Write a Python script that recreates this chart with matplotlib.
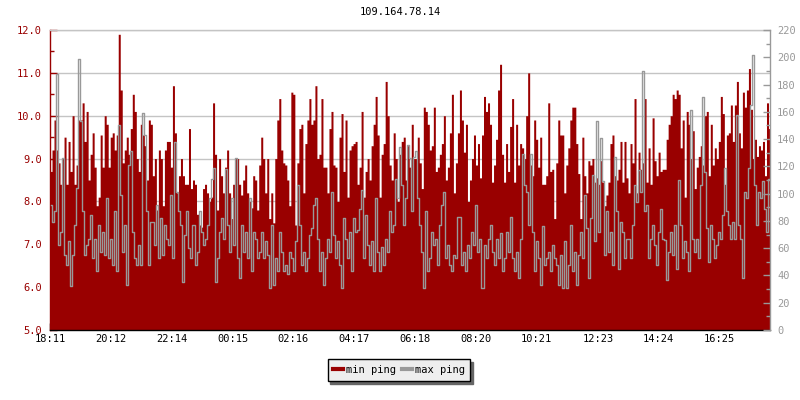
import matplotlib
matplotlib.use("Agg")
import matplotlib.pyplot as plt
import numpy as np
from matplotlib.lines import Line2D
from matplotlib.ticker import MultipleLocator, FormatStrFormatter, FixedLocator

plt.rcParams['font.family'] = ['DejaVu Sans Mono', 'DejaVu Sans']

title = "109.164.78.14"
tick_labels = ["18:11", "20:12", "22:14", "00:15", "02:16", "04:17",
               "06:18", "08:20", "10:21", "12:23", "14:24", "16:25"]
sample_minutes = 4
span_minutes = 1435
series_names = ["min ping", "max ping"]

# left axis (ms) – min ping
min_ping = [
    8.7, 9.2, 9.9, 9.2, 8.9, 8.4, 9.0, 9.5, 8.4, 9.4, 8.7, 10.0, 8.4, 8.85, 9.9, 9.9, 10.3,
    9.4, 10.1, 8.5, 9.1, 9.6, 8.8, 7.9, 8.1, 9.55, 8.8, 10.0, 9.8, 8.8, 9.5, 9.6, 9.2, 9.55,
    11.9, 10.6, 8.9, 9.2, 9.5, 9.1, 9.7, 10.5, 10.1, 9.0, 8.7, 9.8, 9.55, 9.3, 8.5, 9.9, 9.8,
    8.6, 9.0, 7.8, 9.2, 9.0, 7.9, 9.2, 9.4, 9.4, 8.8, 10.7, 9.6, 8.2, 8.6, 9.0, 8.6, 8.4,
    8.4, 9.7, 8.3, 8.5, 8.4, 7.7, 7.45, 7.4, 8.3, 8.4, 8.2, 8.0, 8.1, 10.3, 9.1, 7.8, 9.0,
    8.6, 8.2, 8.8, 9.2, 8.2, 7.6, 8.4, 9.0, 9.0, 8.4, 8.15, 8.5, 8.85, 8.2, 8.0, 7.85, 8.6,
    8.5, 7.8, 8.85, 9.5, 9.0, 8.2, 9.0, 7.6, 8.2, 7.5, 9.0, 9.9, 10.4, 9.2, 8.9, 8.85, 8.5,
    7.9, 10.55, 10.5, 7.45, 8.9, 9.7, 9.8, 8.2, 9.35, 9.9, 10.4, 9.8, 9.9, 10.7, 9.0, 9.1,
    10.4, 8.8, 8.8, 8.2, 9.7, 10.1, 8.85, 8.8, 8.0, 9.5, 10.05, 8.7, 9.9, 8.1, 9.2, 9.3, 9.35, 9.4,
    8.4, 8.8, 10.1, 8.1, 8.7, 9.0, 8.5, 9.3, 9.8, 10.45, 9.55, 8.1, 9.1, 9.35, 10.8, 10.0, 8.85,
    8.5, 9.6, 9.0, 8.0, 9.1, 9.4, 9.5, 8.5, 9.3, 8.8, 9.8, 9.0, 9.0, 9.5, 8.9, 8.3, 10.2,
    10.1, 9.8, 9.2, 9.3, 10.2, 8.7, 8.8, 9.1, 9.35, 10.0, 8.5, 8.8, 9.6, 10.5, 8.2, 8.9, 9.6,
    10.6, 9.9, 9.15, 9.8, 8.0, 8.5, 9.0, 9.55, 8.85, 9.35, 8.55, 9.55, 10.45, 10.1, 10.3, 9.8,
    8.45, 8.85, 9.45, 10.6, 11.2, 9.1, 8.45, 9.35, 8.7, 9.75, 10.4, 8.45, 9.8, 8.85, 9.35,
    9.25, 9.0, 10.0, 11.0, 8.85, 8.6, 9.9, 9.45, 8.8, 9.5, 8.4, 8.4, 8.6, 10.3, 8.7, 8.75,
    7.6, 8.9, 9.9, 9.55,
    9.55, 8.2, 8.85, 9.25, 9.9, 10.2, 10.2, 9.35, 8.65, 7.6, 9.5, 8.6, 8.2, 8.95, 8.85, 9.0,
    8.45, 8.55, 8.4, 8.95, 8.45, 7.9, 8.15, 8.45, 9.35, 9.55, 8.6, 8.5, 8.75, 9.4, 8.45, 9.4,
    8.55, 8.2, 9.35, 8.9, 10.4, 8.2, 9.15, 8.75, 8.9, 10.4, 8.45, 9.25, 8.4, 9.95, 8.95, 8.6,
    9.15, 8.7, 8.75,
    8.75, 9.45, 9.8, 10.0, 10.5, 10.4, 10.6, 10.5, 9.25, 9.9, 8.1, 10.1, 9.8, 9.0, 9.65, 8.3,
    8.8, 9.05, 9.3, 8.85, 10.0, 10.1, 8.6, 9.8, 8.85, 9.25, 9.0, 9.4, 10.45, 10.05, 8.4, 9.55,
    9.6, 10.25, 9.4, 10.25, 10.8, 9.6, 9.25, 10.55, 10.2, 10.6, 11.1, 10.15, 9.0, 9.45, 9.05,
    9.3, 9.2, 9.4, 8.6, 10.3, 9.7, 9.0,
]

# right axis (ms) – max ping
max_ping = [
    92, 79, 87, 188, 62, 72, 126, 55, 48, 65, 32, 55, 77, 104, 199, 153, 87, 55, 62, 67,
    84, 53, 67, 43, 77, 57, 72, 55, 97, 53, 67, 48, 87, 43, 150, 99, 57, 77, 33, 121,
    131, 72, 53, 48, 62, 48, 159, 143, 87, 48, 79,
    79, 62, 92, 53, 82, 55, 77, 67, 62, 99, 53, 138, 101, 87, 77, 35, 70, 87, 60, 53,
    77, 48, 57, 87, 72, 62, 67, 77, 97, 111, 119, 35, 53, 72, 82, 67, 118, 77, 57, 97,
    62, 126, 53, 38, 77, 57, 72, 53, 97, 43, 72,
    67, 53, 57, 72, 53, 65, 55, 31, 77, 33, 53, 43, 72, 57, 43, 48, 41, 57, 53, 43,
    65, 106, 77, 48, 57, 43, 53, 70, 75, 92, 97, 67, 43, 57, 33, 53, 67, 57, 101, 70,
    53, 65, 48, 31, 82, 67, 53, 72, 43, 82, 72,
    73, 89, 103, 53, 84, 62, 48, 65, 43, 97, 57, 43, 61, 48, 67, 57, 87, 72, 77, 111,
    97, 134, 106, 77, 97, 136, 126, 87, 127, 131, 97, 77, 57, 31, 87, 43, 53, 72, 62, 67,
    48, 77, 92, 101, 53, 62, 48, 43, 55, 53, 83,
    83, 48, 57, 43, 62, 53, 72, 62, 92, 57, 67, 31, 62, 53, 67, 77, 57, 48, 67, 53,
    71, 43, 53, 72, 57, 83, 53, 43, 57, 38, 67, 129, 106, 101, 77, 129, 72, 43, 65, 53,
    33, 76, 48, 53, 57, 43, 62, 53, 48, 33, 55,
    31, 65, 31, 48, 77, 43, 57, 33, 55, 72, 53, 99, 75, 38, 82, 114, 65, 153, 72, 141,
    109, 55, 87, 57, 72, 48, 127, 87, 45, 79, 72, 53, 67, 67, 53, 77, 106, 94, 117, 101,
    190, 87, 92, 53, 67, 77, 62, 48, 72, 89, 67,
    66, 37, 57, 72, 55, 77, 45, 110, 77, 53, 65, 57, 43, 161, 67, 57, 67, 53, 106, 171,
    116, 75, 50, 77, 67, 53, 62, 72, 67, 84, 119, 87, 77, 67, 79, 67, 158, 77, 67, 38,
    101, 97, 119, 165, 202, 106, 77, 101, 97, 109, 89, 72, 111, 67,
]

RED = '#990000'
GREY = '#999999'
GRID = '#c4c4c4'
FS = 7.5


def to_minutes(lbl, start):
    h, m = map(int, lbl.split(':'))
    sh, sm = map(int, start.split(':'))
    return ((h * 60 + m) - (sh * 60 + sm)) % 1440


fig = plt.figure(figsize=(8, 4), dpi=100)
ax = fig.add_axes([50 / 800, 70 / 400, 720 / 800, 300 / 400])
ax2 = ax.twinx()

n = min(len(min_ping), len(max_ping))
t = np.arange(n) * sample_minutes
edges = np.append(t, t[-1] + sample_minutes)
vals = np.append(np.array(min_ping[:n]), min_ping[n - 1])
ax.fill_between(edges, 5.0, vals, step='post', color=RED, lw=0, zorder=2)
ax2.plot(t + sample_minutes / 2, max_ping[:n], drawstyle='steps-mid',
         color=GREY, lw=1.0, zorder=3)

ax.set_xlim(0, span_minutes)
ax.set_ylim(5.0, 12.0)
ax2.set_ylim(0, 220)

ax.xaxis.set_major_locator(FixedLocator([to_minutes(l, tick_labels[0]) for l in tick_labels]))
ax.set_xticklabels(tick_labels)
ax.tick_params(axis='x', which='major', direction='in', length=5, width=1,
               color='black', labelcolor='black', labelsize=FS, pad=3)

ax.yaxis.set_major_locator(MultipleLocator(1.0))
ax.yaxis.set_minor_locator(MultipleLocator(0.5))
ax.yaxis.set_major_formatter(FormatStrFormatter('%.1f'))
ax.tick_params(axis='y', which='major', direction='in', length=5, width=1,
               color=RED, labelcolor=RED, labelsize=FS, pad=6)
ax.tick_params(axis='y', which='minor', direction='in', length=3, width=1, color=RED)

ax2.yaxis.set_major_locator(MultipleLocator(20))
ax2.yaxis.set_minor_locator(MultipleLocator(10))
ax2.tick_params(axis='y', which='major', direction='in', length=5, width=1,
                color=GREY, labelcolor=GREY, labelsize=FS, pad=5)
ax2.tick_params(axis='y', which='minor', direction='in', length=3, width=1, color=GREY)

ax.grid(axis='y', which='major', color=GRID, lw=1)
ax.set_axisbelow(True)

for s in ['left', 'bottom', 'top']:
    ax2.spines[s].set_visible(False)
ax2.spines['right'].set_color(GREY)
ax.spines['right'].set_visible(False)
ax.spines['left'].set_color(RED)
ax.spines['bottom'].set_color('black')
ax.spines['top'].set_color(GRID)
for sp in list(ax.spines.values()) + list(ax2.spines.values()):
    sp.set_linewidth(1)

fig.text(0.5, 1 - 12 / 400, title, ha='center', va='center', fontsize=FS, color='black')

handles = [Line2D([], [], color=RED, lw=3), Line2D([], [], color=GREY, lw=3)]
leg = fig.legend(handles, series_names, loc='center', bbox_to_anchor=(399 / 800, 1 - 370 / 400),
                 ncol=2, frameon=True, fancybox=False, edgecolor='black', facecolor='#eeeeee',
                 framealpha=1, shadow={'color': '#666666', 'alpha': 1},
                 handlelength=0.9, handletextpad=0.3, columnspacing=0.6,
                 borderpad=0.55, borderaxespad=0, fontsize=FS)
leg.get_frame().set_linewidth(1)

fig.savefig('out.png', dpi=100)
